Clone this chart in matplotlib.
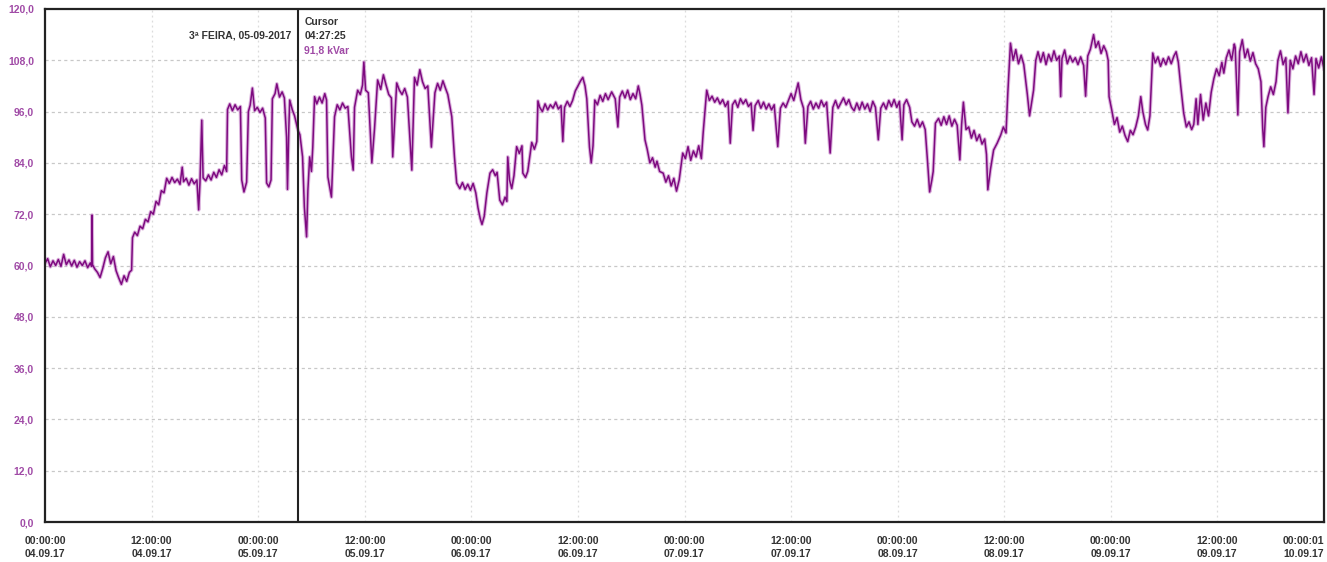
import matplotlib
matplotlib.use("Agg")
import matplotlib.pyplot as plt

# reactive power trace, hours since 04.09.17 00:00:00 -> kVar
hours = [
    0.0, 0.3, 0.6, 0.9, 1.2, 1.5, 1.8, 2.1, 2.4, 2.7, 3.0, 3.3, 3.6, 3.9, 4.2, 4.5, 4.8, 5.1,
    5.25, 5.3, 5.35, 5.6, 5.9, 6.2, 6.5, 6.8, 7.1, 7.4, 7.7, 8.0, 8.3, 8.6, 8.9, 9.2, 9.5,
    9.75, 9.85, 10.1, 10.4, 10.7, 11.0, 11.3, 11.6, 11.9, 12.2, 12.5, 12.8, 13.1, 13.4, 13.7,
    14.0, 14.3, 14.6, 14.9, 15.2, 15.45, 15.6, 15.9, 16.2, 16.5, 16.8, 17.1, 17.3, 17.45,
    17.65, 17.8, 18.1, 18.4, 18.7, 19.0, 19.3, 19.6, 19.9, 20.2, 20.45, 20.55, 20.8, 21.1,
    21.4, 21.7, 22.0, 22.15, 22.4, 22.7, 22.9, 23.1, 23.35, 23.6, 23.9, 24.2, 24.5, 24.8,
    24.95, 25.2, 25.45, 25.6, 25.9, 26.1, 26.4, 26.7, 26.95, 27.2, 27.3, 27.45, 27.55, 27.85,
    28.1, 28.46, 28.7, 29.0, 29.2, 29.45, 29.6, 29.8, 30.0, 30.15, 30.35, 30.6, 30.9, 31.2,
    31.5, 31.7, 31.85, 32.25, 32.6, 32.9, 33.2, 33.5, 33.8, 34.1, 34.5, 34.7, 34.85, 35.2,
    35.5, 35.75, 35.9, 36.1, 36.4, 36.8, 37.1, 37.45, 37.8, 38.1, 38.4, 38.7, 39.0, 39.15,
    39.6, 39.9, 40.2, 40.5, 40.8, 41.3, 41.6, 41.9, 42.2, 42.5, 42.8, 43.1, 43.5, 43.9, 44.2,
    44.5, 44.8, 45.1, 45.35, 45.8, 46.1, 46.35, 46.7, 47.0, 47.3, 47.6, 47.9, 48.2, 48.5,
    48.75, 49.0, 49.2, 49.45, 49.75, 50.1, 50.4, 50.7, 50.9, 51.2, 51.5, 51.8, 52.0, 52.1,
    52.3, 52.55, 52.8, 53.1, 53.4, 53.7, 53.8, 54.1, 54.35, 54.8, 55.1, 55.37, 55.5, 55.7,
    56.0, 56.3, 56.6, 56.9, 57.2, 57.5, 57.8, 58.1, 58.3, 58.5, 58.8, 59.1, 59.4, 59.7, 60.0,
    60.3, 60.55, 60.8, 61.0, 61.3, 61.5, 61.7, 61.9, 62.2, 62.5, 62.8, 63.1, 63.4, 63.8,
    64.2, 64.5, 64.7, 65.0, 65.3, 65.6, 65.9, 66.2, 66.5, 66.8, 67.0, 67.2, 67.55, 67.8,
    68.1, 68.4, 68.7, 68.9, 69.2, 69.6, 69.9, 70.2, 70.5, 70.8, 71.1, 71.4, 71.8, 72.1,
    72.4, 72.7, 73.0, 73.3, 73.6, 73.9, 74.1, 74.5, 74.8, 75.1, 75.4, 75.7, 76.0, 76.3,
    76.6, 76.9, 77.15, 77.4, 77.7, 78.0, 78.3, 78.6, 78.9, 79.2, 79.5, 79.72, 79.95, 80.3,
    80.6, 80.9, 81.2, 81.5, 81.8, 82.1, 82.5, 82.8, 83.1, 83.4, 83.7, 84.0, 84.3, 84.8,
    85.1, 85.4, 85.6, 85.9, 86.2, 86.5, 86.8, 87.1, 87.4, 87.7, 88.0, 88.4, 88.7, 89.0,
    89.3, 89.6, 89.9, 90.2, 90.5, 90.8, 91.1, 91.4, 91.7, 92.0, 92.3, 92.6, 92.9, 93.2,
    93.5, 93.82, 94.1, 94.4, 94.7, 95.0, 95.3, 95.6, 95.9, 96.2, 96.5, 96.7, 97.0, 97.35,
    97.6, 97.9, 98.2, 98.5, 98.8, 99.1, 99.35, 99.6, 99.85, 100.0, 100.25, 100.6, 100.9,
    101.2, 101.5, 101.8, 102.1, 102.4, 102.7, 103.0, 103.2, 103.4, 103.7, 104.0, 104.3,
    104.6, 104.9, 105.2, 105.5, 105.8, 106.0, 106.15, 106.45, 106.8, 107.2, 107.6, 107.9,
    108.2, 108.4, 108.7, 109.0, 109.3, 109.6, 109.9, 110.2, 110.6, 110.85, 111.0, 111.3,
    111.55, 111.8, 112.1, 112.4, 112.7, 113.0, 113.3, 113.6, 113.9, 114.2, 114.35, 114.5,
    114.8, 115.1, 115.4, 115.7, 116.0, 116.3, 116.6, 116.94, 117.16, 117.4, 117.7, 118.06,
    118.3, 118.6, 118.9, 119.2, 119.5, 119.7, 119.8, 120.1, 120.4, 120.7, 121.0, 121.3,
    121.6, 121.9, 122.2, 122.5, 122.8, 123.1, 123.37, 123.6, 123.9, 124.15, 124.4, 124.72,
    125.0, 125.3, 125.6, 125.9, 126.2, 126.5, 126.8, 127.1, 127.35, 127.6, 127.88, 128.2,
    128.5, 128.8, 129.1, 129.34, 129.6, 129.8, 130.1, 130.4, 130.7, 131.0, 131.3, 131.6,
    131.9, 132.2, 132.5, 132.72, 133.0, 133.3, 133.6, 133.9, 134.0, 134.3, 134.5, 134.8,
    135.1, 135.4, 135.7, 136.0, 136.3, 136.6, 136.9, 137.1, 137.23, 137.45, 137.7, 138.0,
    138.3, 138.6, 138.81, 139.1, 139.4, 139.7, 139.94, 140.2, 140.5, 140.8, 141.1, 141.4,
    141.7, 142.0, 142.3, 142.6, 142.88, 143.1, 143.4, 143.7, 144.0,
]
kvar = [
    60.5, 61.6, 59.7, 61.1, 60.0, 61.4, 59.8, 62.6, 60.2, 61.3, 59.9, 61.2, 59.6, 60.9, 60.0, 61.1, 59.5, 60.6,
    59.8, 71.8, 60.2, 59.2, 58.4, 57.2, 59.3, 61.8, 63.2, 60.4, 62.1, 58.8, 57.1, 55.6, 57.6, 56.3, 58.4,
    58.9, 66.5, 67.8, 67.0, 69.2, 68.6, 70.8, 70.2, 72.6, 72.0, 75.0, 74.2, 77.5, 77.0, 80.4,
    79.2, 80.6, 79.4, 80.2, 79.0, 83.0, 79.6, 80.4, 78.8, 80.3, 79.1, 80.0, 73.0, 79.5,
    94.0, 80.5, 79.8, 81.2, 80.0, 81.8, 80.6, 82.4, 81.2, 83.4, 82.0, 96.5, 97.8, 96.2,
    97.6, 96.4, 97.2, 80.0, 77.2, 79.5, 96.0, 97.5, 101.5, 96.2, 97.0, 95.8, 96.8, 94.5,
    79.3, 78.4, 80.0, 99.0, 100.2, 102.5, 99.4, 100.6, 99.2, 90.0, 77.8, 92.0, 98.7, 96.4,
    95.0, 91.8, 90.6, 85.4, 73.7, 66.7, 77.7, 85.4, 82.0, 87.7, 99.5, 97.8, 99.4, 98.0,
    100.2, 98.7, 80.7, 76.0, 94.8, 97.6, 96.4, 98.0, 96.8, 97.2, 85.4, 82.3, 97.0, 101.0,
    100.0, 102.2, 107.6, 101.0, 100.4, 84.0, 92.0, 103.4, 101.2, 104.6, 102.2, 100.0, 99.2, 85.4,
    102.7, 101.0, 100.0, 101.4, 99.4, 82.3, 104.0, 102.2, 105.8, 103.0, 101.4, 102.0, 87.7, 100.4, 102.6,
    101.0, 103.2, 101.4, 100.0, 94.8, 85.4, 79.3, 78.0, 79.4, 77.8, 79.0, 77.6, 79.2, 77.0,
    73.5, 71.0, 69.6, 71.5, 77.0, 81.6, 82.4, 81.0, 81.8, 75.3, 74.2, 76.0, 75.0, 85.4,
    80.0, 78.0, 81.0, 87.8, 86.2, 88.0, 81.6, 80.6, 82.0, 88.8, 87.2, 89.0, 98.5, 97.0,
    96.0, 97.8, 96.4, 97.6, 96.8, 98.2, 96.6, 97.4, 89.0, 97.0, 98.4, 97.2, 98.6, 100.8, 102.0,
    103.2, 104.0, 102.0, 99.0, 87.7, 84.0, 88.0, 98.7, 97.6, 99.8, 98.4, 100.2, 98.8, 100.6,
    99.0, 92.4, 99.4, 100.8, 99.2, 101.0, 98.8, 100.2, 99.0, 102.0, 100.0, 97.5, 89.4, 87.2,
    84.0, 85.2, 83.0, 84.4, 82.0, 81.6, 79.5, 81.0, 78.6, 80.4, 77.4, 80.0, 86.3, 85.0,
    87.8, 84.6, 86.8, 85.4, 88.0, 85.0, 91.0, 101.0, 98.6, 99.6, 98.2, 99.2, 97.8, 98.8,
    97.2, 98.4, 88.6, 97.6, 98.6, 97.0, 99.0, 97.8, 98.8, 97.2, 98.0, 91.6, 97.4, 98.6,
    96.8, 98.2, 96.6, 97.8, 96.4, 97.6, 87.8, 96.8, 98.0, 97.0, 98.6, 100.2, 98.6, 102.7,
    98.8, 96.8, 88.6, 97.2, 98.4, 96.6, 98.0, 96.8, 98.6, 97.2, 98.2, 86.3, 97.0, 98.6,
    96.8, 98.0, 99.2, 97.6, 98.8, 97.0, 96.2, 98.0, 96.4, 98.2, 96.6, 97.8, 96.0, 98.4,
    97.0, 89.4, 96.8, 98.0, 96.6, 98.6, 97.2, 98.8, 97.0, 98.4, 89.4, 97.6, 98.8, 97.0,
    93.6, 92.6, 94.2, 92.4, 93.6, 91.8, 84.7, 77.2, 80.0, 82.0, 93.3, 94.4, 92.8,
    94.8, 93.0, 95.0, 92.6, 94.2, 92.8, 84.7, 93.0, 98.2, 91.8, 92.4, 89.8,
    91.6, 89.2, 90.6, 88.4, 89.6, 86.0, 77.7, 82.5, 87.0, 88.6, 90.5, 92.4,
    91.0, 100.3, 112.0, 108.0, 110.5, 107.2, 109.2, 107.0, 100.0, 95.0, 97.0, 101.0,
    108.0, 110.0, 107.6, 109.8, 107.0, 109.4, 107.8, 110.2, 108.0, 109.0, 99.5, 108.4,
    110.4, 107.2, 109.0, 107.6, 108.6, 107.0, 108.8, 106.8, 99.6, 109.0, 110.6, 114.0,
    111.0, 112.4, 109.6, 111.4, 110.0, 108.0, 99.5, 96.4, 93.0, 94.6, 91.2, 92.6,
    90.4, 89.0, 91.6, 90.6, 92.4, 95.0, 99.5, 96.0, 93.0, 91.7, 95.0, 109.7,
    107.4, 108.8, 106.6, 108.4, 107.0, 108.8, 107.2, 109.0, 110.0, 107.5, 101.8, 95.7,
    92.4, 93.6, 91.8, 93.0, 99.0, 93.0, 100.0, 94.0, 98.0, 95.0, 100.5, 103.7,
    106.0, 104.4, 107.5, 105.0, 108.6, 110.4, 108.0, 111.8, 111.0, 95.2, 110.0, 112.8,
    108.6, 110.6, 107.8, 109.8, 107.2, 106.0, 103.0, 92.0, 87.8, 97.0, 99.5, 101.8,
    100.0, 103.0, 108.0, 110.2, 107.0, 108.6, 95.7, 108.0, 106.0, 109.0, 107.2, 110.0,
    107.6, 109.4, 106.8, 108.6, 100.0, 108.4, 106.2, 108.8, 106.0,
]

tick_hours = [0, 12, 24, 36, 48, 60, 72, 84, 96, 108, 120, 132, 144]
tick_labels = [
    "00:00:00\n04.09.17", "12:00:00\n04.09.17", "00:00:00\n05.09.17", "12:00:00\n05.09.17",
    "00:00:00\n06.09.17", "12:00:00\n06.09.17", "00:00:00\n07.09.17", "12:00:00\n07.09.17",
    "00:00:00\n08.09.17", "12:00:00\n08.09.17", "00:00:00\n09.09.17", "12:00:00\n09.09.17",
    "00:00:01\n10.09.17",
]
y_ticks = [0, 12, 24, 36, 48, 60, 72, 84, 96, 108, 120]
y_labels = ["0,0", "12,0", "24,0", "36,0", "48,0", "60,0", "72,0", "84,0", "96,0", "108,0", "120,0"]

cursor_hour = 4 + 27 / 60 + 25 / 3600 + 24
cursor_value = 91.8

plt.rcParams['font.family'] = ['Liberation Sans', 'DejaVu Sans']
PURPLE = '#7e0a80'
LABEL_PURPLE = '#a04aa6'

fig = plt.figure(figsize=(13.27, 5.62), dpi=100)
ax = fig.add_axes([45 / 1327, 40 / 562, 1279 / 1327, 513 / 562])

# soft halo then the actual trace
ax.plot(hours, kvar, color='#c98acb', lw=2.6, alpha=0.65)
ax.plot(hours, kvar, color=PURPLE, lw=1.1)

ax.set_xlim(0, 144)
ax.set_ylim(0, 120)

for y in y_ticks[1:-1]:
    ax.axhline(y, color='#c8c8c8', lw=0.9, ls=(0, (2.5, 2.5)), zorder=0)
for h in tick_hours[1:-1]:
    ax.axvline(h, color='#dcdcdc', lw=0.9, ls=(0, (1.5, 2.5)), zorder=0)

ax.set_xticks(tick_hours)
ax.set_xticklabels(tick_labels, fontsize=7.5, fontweight='bold', color='#333333', linespacing=1.45)
ax.set_yticks(y_ticks)
ax.set_yticklabels(y_labels, fontsize=7.5, fontweight='bold', color=LABEL_PURPLE)
ax.tick_params(axis='x', length=0, pad=10)
ax.tick_params(axis='y', length=0, pad=8)
ax.get_xticklabels()[-1].set_horizontalalignment('right')

for sp in ax.spines.values():
    sp.set_color('#222222')
    sp.set_linewidth(1.6)

# cursor marker with its readout
ax.axvline(cursor_hour, color='#222222', lw=1.5)
ax.text(cursor_hour + 0.75, 117.0, "Cursor", fontsize=7.5, fontweight='bold', color='#333333', va='center')
ax.text(cursor_hour + 0.75, 113.7, "04:27:25", fontsize=7.5, fontweight='bold', color='#333333', va='center')
ax.text(cursor_hour + 0.75, 110.4, f"{cursor_value:.1f} kVar".replace('.', ','),
        fontsize=7.5, fontweight='bold', color=LABEL_PURPLE, va='center')
ax.text(cursor_hour - 0.75, 113.7, "3ª FEIRA, 05-09-2017", fontsize=7.5, fontweight='bold',
        color='#333333', va='center', ha='right')

fig.savefig("out.png", dpi=100)
